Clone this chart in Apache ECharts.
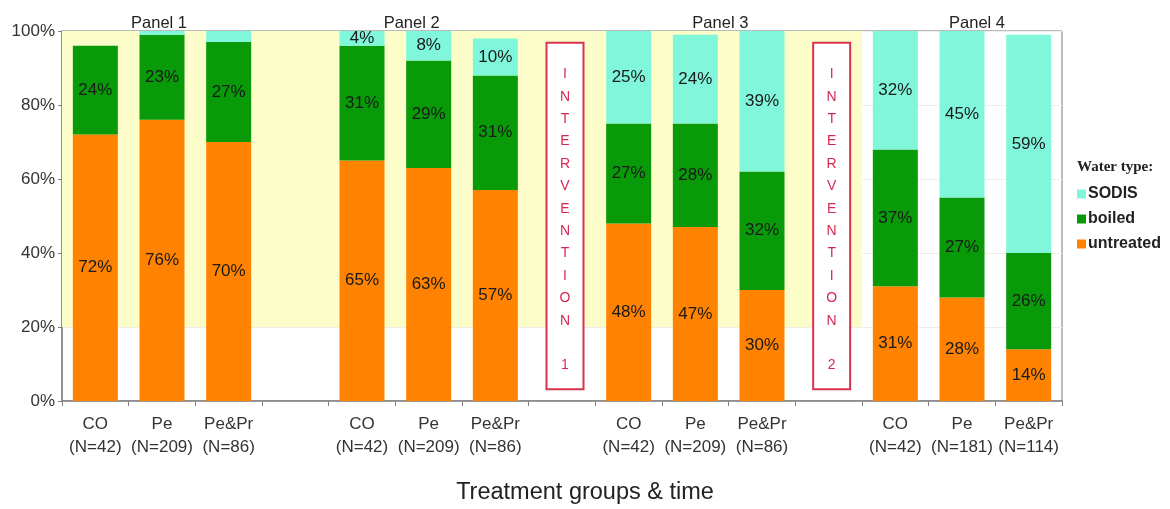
<!DOCTYPE html>
<html><head><meta charset="utf-8">
<script src="https://cdn.jsdelivr.net/npm/echarts@6/dist/echarts.min.js"></script>
<style>html,body{margin:0;padding:0;background:#fff}#c{width:1170px;height:509px}</style>
</head><body><div id="c"></div>
<script>
const xLabels = ['CO\n(N=42)','Pe\n(N=209)','Pe&Pr\n(N=86)','',
                 'CO\n(N=42)','Pe\n(N=209)','Pe&Pr\n(N=86)','',
                 'CO\n(N=42)','Pe\n(N=209)','Pe&Pr\n(N=86)','',
                 'CO\n(N=42)','Pe\n(N=181)','Pe&Pr\n(N=114)'];
const panelLabels = ['','Panel 1','','','','Panel 2','','','','Panel 3','','','','Panel 4',''];
const untreated = [72,76,70,null,65,63,57,null,48,47,30,null,31,28,14];
const boiled    = [24,23,27,null,31,29,31,null,27,28,32,null,37,27,26];
const sodis     = [0,1,3,null,4,8,10,null,25,24,39,null,32,45,59];
const interventionSlots = [7, 11];
const interventionNumbers = ['1', '2'];
const legendNames = ['SODIS','boiled','untreated'];

const COLORS = {untreated:'#ff8200', boiled:'#089a08', SODIS:'#80f7da'};
const FONT = '"Liberation Sans", Arial, sans-serif';

const chart = echarts.init(document.getElementById('c'), null, {renderer:'canvas'});

function barSeries(name, data) {
  return {
    name, type:'bar', stack:'total', data, barWidth:45, z:3,
    itemStyle:{color:COLORS[name]},
    label:{show:true, position:'inside', fontFamily:FONT, fontSize:17, color:'#1a1a1a',
      formatter:p => (p.value != null && p.value >= 4) ? p.value + '%' : ''}
  };
}

const panelRich = {
  p1:{padding:[0,6,0,0]}, p2:{padding:[0,34,0,0]}, p3:{padding:[0,0,0,50]}, p4:{padding:[0,0,0,30]}
};
Object.values(panelRich).forEach(r => { r.fontFamily = FONT; r.fontSize = 16.5; r.color = '#222'; });

const option = {
  backgroundColor:'#fff',
  animation:false,
  title:[
    {text:'Treatment groups & time', left:'center', top:476,
     textStyle:{fontFamily:FONT, fontSize:23.5, fontWeight:'normal', color:'#222'}},
    {text:'Water type:', left:1072, top:155,
     textStyle:{fontFamily:'"Liberation Serif", "DejaVu Serif", serif', fontSize:15, fontWeight:'bold', color:'#222'}}
  ],
  legend:{
    data:legendNames, orient:'vertical', left:1072, top:181, itemWidth:9, itemHeight:9, itemGap:9,
    icon:'rect',
    textStyle:{fontFamily:FONT, fontSize:16, fontWeight:'bold', color:'#222', padding:[0,0,0,-3]}
  },
  grid:{left:62, right:108, top:31, bottom:108, show:true, borderColor:'#777', borderWidth:1, backgroundColor:'transparent'},
  xAxis:[
    {type:'category', data:xLabels, position:'bottom',
     axisLine:{lineStyle:{color:'#808080', width:1.5}},
     axisTick:{show:true, length:5, lineStyle:{color:'#808080'}},
     axisLabel:{interval:0, fontFamily:FONT, fontSize:17, color:'#333', lineHeight:23, margin:12}},
    {type:'category', data:panelLabels, position:'top',
     axisLine:{show:false}, axisTick:{show:false},
     axisLabel:{interval:0, margin:-1, rich:panelRich,
       formatter:(v) => {
         if (!v) return '';
         const n = v.slice(-1);
         return '{p' + n + '|' + v + '}';
       }}}
  ],
  yAxis:{type:'value', min:0, max:100, interval:20,
    axisLine:{show:true, lineStyle:{color:'#808080', width:1.5}},
    axisTick:{show:true, length:4, lineStyle:{color:'#808080'}},
    splitLine:{show:true, lineStyle:{color:'#efefe6'}},
    axisLabel:{formatter:'{value}%', fontFamily:FONT, fontSize:17, color:'#333', margin:7}},
  series:[
    {
      type:'custom', name:'bg', z:1, silent:true,
      data:[[0, 11, 20, 100]],
      encode:{x:[0,1], y:[2,3]},
      renderItem:(params, api) => {
        const bw = api.size([1,0])[0];
        const a = api.coord([api.value(0), api.value(3)]);
        const b = api.coord([api.value(1), api.value(2)]);
        return {type:'rect', shape:{x:a[0]-bw/2, y:a[1], width:b[0]-a[0]+bw, height:b[1]-a[1]},
                style:{fill:'#fdfdca'}};
      }
    },
    barSeries('untreated', untreated),
    barSeries('boiled', boiled),
    barSeries('SODIS', sodis),
    {
      type:'custom', name:'intervention', z:5, silent:true,
      data:interventionSlots.map((s,i) => [s, 50, interventionNumbers[i]]),
      encode:{x:0, y:1},
      renderItem:(params, api) => {
        const x = api.coord([api.value(0), 50])[0] + 3;
        const top = api.coord([api.value(0), 96.8])[1];
        const bot = api.coord([api.value(0), 3.2])[1];
        const w = 37;
        const num = interventionNumbers[params.dataIndex];
        return {type:'group', children:[
          {type:'rect', shape:{x:x-w/2, y:top, width:w, height:bot-top},
           style:{fill:'#fff', stroke:'#d8324f', lineWidth:2}},
          {type:'text', x:x, y:(top+bot)/2 + 4,
           style:{text:'INTERVENTION'.split('').join('\n') + '\n\n' + num,
                  fontFamily:FONT, fontSize:14, lineHeight:22.4, fill:'#d42a52',
                  align:'center', verticalAlign:'middle'}}
        ]};
      }
    }
  ]
};
chart.setOption(option);
</script></body></html>
